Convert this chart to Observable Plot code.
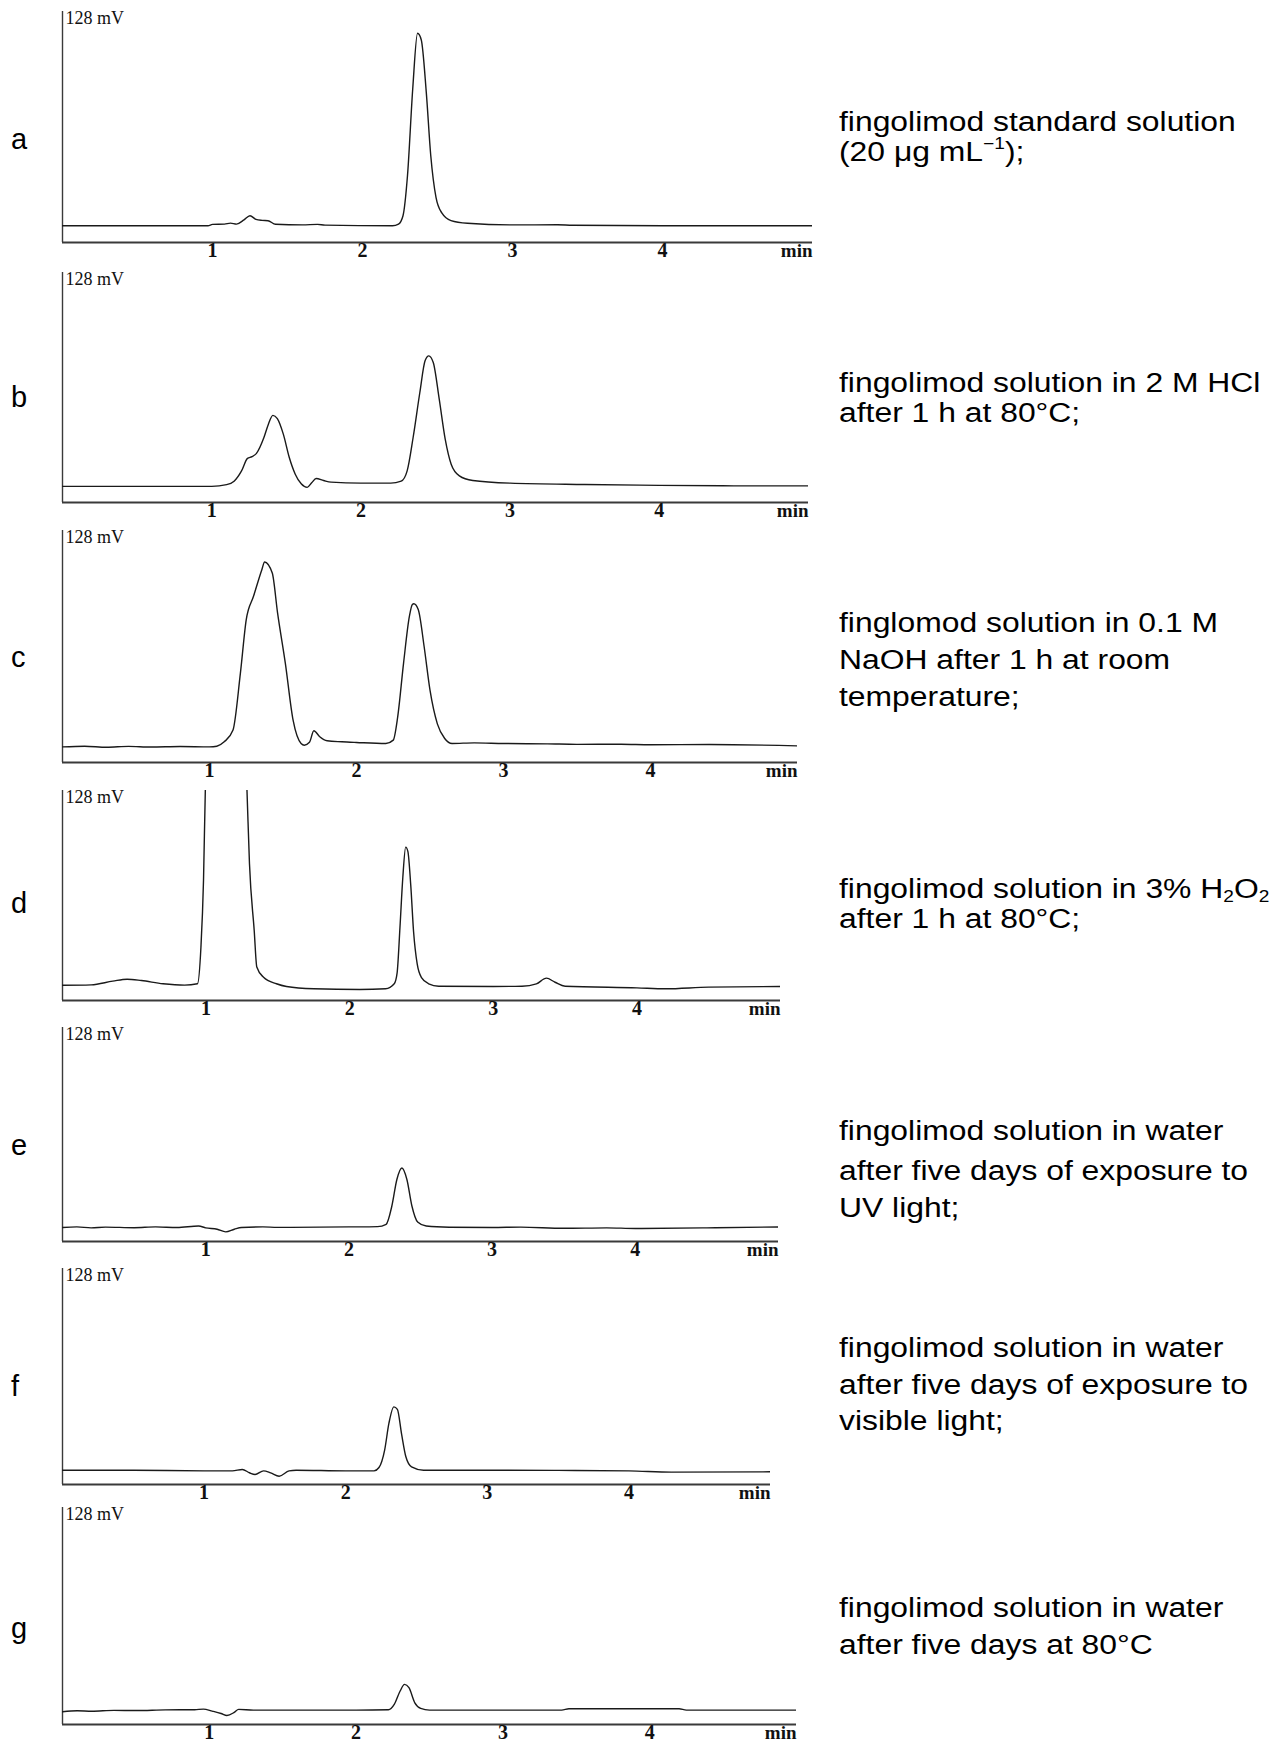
<!DOCTYPE html>
<html><head><meta charset="utf-8">
<script src="https://cdn.jsdelivr.net/npm/d3@7"></script>
<script src="https://cdn.jsdelivr.net/npm/@observablehq/plot@0.6"></script>
<style>
body{margin:0;background:#fff}
#root{position:relative;width:1280px;height:1742px;background:#fff;overflow:hidden}
.txt{position:absolute;font-family:"Liberation Sans",Arial,sans-serif;font-size:27px;line-height:27px;white-space:nowrap;color:#000;transform:scaleX(1.18);transform-origin:0 50%}
.letter{position:absolute;font-family:"Liberation Sans",Arial,sans-serif;font-size:29px;line-height:29px;white-space:nowrap;color:#000}
sup{font-size:0.6em;vertical-align:0.75em;line-height:0}
sub{font-size:0.6em;vertical-align:-0.25em;line-height:0}
</style></head><body><div id="root"></div><script>
// x tick labels (min)
const xTicks = [1, 2, 3, 4];
const panelLetters = ["a", "b", "c", "d", "e", "f", "g"];

// traces: [time (min), signal (mV)]
const traceA = [[0,0],[0.5,0],[0.97,0],[1.0,0.8],[1.08,1.0],[1.12,1.6],[1.16,1.0],[1.21,3.5],[1.25,6],[1.29,3.8],[1.33,3.2],[1.37,3.0],[1.42,0.9],[1.6,0.5],[1.7,0.8],[1.75,0.4],[2.2,0],[2.24,1],[2.27,6],[2.3,30],[2.335,82],[2.367,115],[2.392,111],[2.425,80],[2.455,42],[2.49,17],[2.53,7.5],[2.59,3.1],[2.7,1.5],[3.0,0.5],[3.3,0.6],[3.4,0.3],[4.0,0],[5.0,0]];
const traceB = [[0,-0.3],[1.0,-0.3],[1.1,0.7],[1.15,2.8],[1.2,9],[1.24,16.5],[1.27,17.5],[1.3,19.5],[1.35,29],[1.38,37],[1.41,42.3],[1.44,40.3],[1.48,31],[1.52,17],[1.56,7],[1.6,1.2],[1.64,-0.9],[1.67,1.8],[1.7,4.4],[1.75,3.2],[1.8,2.2],[2.0,1.6],[2.2,1.6],[2.27,2.8],[2.31,9],[2.35,29],[2.395,56],[2.43,75],[2.455,78],[2.485,74],[2.525,52],[2.565,28],[2.605,13],[2.66,6],[2.75,3.2],[3.0,1.6],[3.5,0.8],[4.0,0.3],[4.5,0],[5.0,0]];
const traceC = [[0,-0.7],[0.15,-0.3],[0.3,-0.9],[0.45,-0.4],[0.6,-0.8],[0.8,-0.5],[1.0,-0.7],[1.05,-0.3],[1.1,2.3],[1.16,9.3],[1.21,43],[1.25,75],[1.3,89],[1.356,104.7],[1.375,109.3],[1.427,102.7],[1.463,79],[1.516,49],[1.569,15],[1.623,1.3],[1.645,0.3],[1.68,2],[1.71,8.9],[1.75,5.3],[1.8,2.9],[1.9,2.3],[2.0,1.9],[2.2,1.3],[2.25,3.3],[2.28,17],[2.32,49],[2.36,77],[2.38,84],[2.39,84.4],[2.42,81],[2.46,59],[2.5,33],[2.55,13],[2.6,4.3],[2.65,1.3],[2.8,1.7],[3.0,1.3],[3.3,1.1],[3.5,0.8],[3.8,0.9],[4.0,0.6],[4.4,0.7],[5.0,-0.1]];
const traceD = [[0,0],[0.2,0.3],[0.35,2.7],[0.45,4.0],[0.55,3.1],[0.7,1],[0.85,0.1],[0.94,1],[0.964,25],[0.982,69],[0.995,130],[1.05,220],[1.15,240],[1.25,200],[1.284,130],[1.302,80],[1.335,36],[1.353,12],[1.4,5.3],[1.49,1],[1.56,-0.8],[1.75,-2.3],[2.07,-2.8],[2.25,-2.3],[2.31,1],[2.33,8],[2.35,38],[2.37,71],[2.39,90.8],[2.405,88],[2.425,66],[2.445,35],[2.47,14],[2.5,5],[2.55,1],[2.62,-0.6],[3.0,-0.8],[3.2,-0.6],[3.3,0.95],[3.37,4.7],[3.43,2],[3.5,-0.6],[4.0,-1.7],[4.2,-2.3],[4.5,-1.2],[5.0,-0.8]];
const traceE = [[0,-1],[0.1,-0.6],[0.2,-1.2],[0.3,-0.7],[0.5,-1.1],[0.65,-0.6],[0.8,-1],[0.95,0],[1.0,-1.2],[1.08,-2.1],[1.14,-3.8],[1.2,-2.1],[1.25,-1],[1.4,-0.6],[1.5,-0.9],[2.0,-0.6],[2.2,-0.4],[2.26,1.1],[2.3,12.9],[2.335,30],[2.37,37.4],[2.405,30],[2.44,12.9],[2.48,2.6],[2.54,0],[2.7,-0.8],[3.0,-1],[3.2,-0.7],[3.5,-1.5],[3.8,-1.2],[4.0,-1.6],[4.5,-1.2],[5.0,-0.6]];
const traceF = [[0,-0.85],[0.5,-0.9],[1.0,-1.3],[1.2,-1.3],[1.27,-0.4],[1.32,-2.5],[1.36,-3.6],[1.42,-1.3],[1.47,-2.6],[1.53,-4.7],[1.6,-1.3],[1.65,-0.85],[2.0,-1.3],[2.2,-1.3],[2.235,0.85],[2.275,12],[2.305,29],[2.34,39.6],[2.365,38],[2.395,22],[2.425,7.7],[2.465,1.3],[2.55,-0.85],[3.0,-0.85],[3.5,-1],[4.0,-1.3],[4.3,-2.1],[5.0,-1.9]];
const traceG = [[0,-1.9],[0.1,-1.3],[0.2,-1.6],[0.35,-1.0],[0.5,-1.1],[0.7,-0.7],[0.9,-0.6],[0.96,-0.2],[1.02,-1.5],[1.08,-3],[1.12,-4.3],[1.17,-2.3],[1.2,-0.4],[1.3,-0.85],[2.0,-0.85],[2.22,-0.6],[2.26,2.8],[2.3,11.3],[2.33,15.5],[2.36,13.4],[2.4,3.8],[2.44,0.2],[2.5,-0.85],[3.4,-0.85],[3.45,0],[4.2,0],[4.25,-0.85],[5.0,-0.85]];

const descriptions = [
  ["fingolimod standard solution", "(20 μg mL<sup>−1</sup>);"],
  ["fingolimod solution in 2 M HCl", "after 1 h at 80°C;"],
  ["finglomod solution in 0.1 M", "NaOH after 1 h at room", "temperature;"],
  ["fingolimod solution in 3% H<sub>2</sub>O<sub>2</sub>", "after 1 h at 80°C;"],
  ["fingolimod solution in water", "after five days of exposure to", "UV light;"],
  ["fingolimod solution in water", "after five days of exposure to", "visible light;"],
  ["fingolimod solution in water", "after five days at 80°C"]
];

const traces = [traceA, traceB, traceC, traceD, traceE, traceF, traceG];
// layout (pixels)
const geom = [
  {top: 11, axis: 242, right: 812, letterY: 142, lines: [124.5, 155]},
  {top: 272, axis: 502, right: 808, letterY: 400, lines: [385.5, 416]},
  {top: 530, axis: 762, right: 797, letterY: 660, lines: [626, 663, 700]},
  {top: 790, axis: 1000, right: 780, letterY: 906, lines: [891.5, 922]},
  {top: 1027, axis: 1241, right: 778, letterY: 1148, lines: [1134, 1174, 1211]},
  {top: 1268, axis: 1484, right: 770, letterY: 1389, lines: [1351, 1388, 1424]},
  {top: 1507, axis: 1724, right: 796, letterY: 1631, lines: [1611, 1648]}
];

const root = document.getElementById("root");
const serif = "'Liberation Serif', 'Times New Roman', serif";

traces.forEach((trace, i) => {
  const g = geom[i];
  const mt = 6, mb = 30;
  const svg = Plot.plot({
    width: g.right + 10,
    height: (g.axis - g.top) + mt + mb,
    marginLeft: 62, marginRight: 10, marginTop: mt, marginBottom: mb,
    style: {background: "transparent", overflow: "visible", maxWidth: "none"},
    x: {domain: [0, 5], axis: null},
    y: {domain: [-10, 128], axis: null},
    marks: [
      Plot.ruleY([-10], {stroke: "#3a3a3a", strokeWidth: 1.8}),
      Plot.ruleX([0], {y1: -10, y2: 128, stroke: "#3a3a3a", strokeWidth: 1.4}),
      Plot.line(trace, {x: d => d[0], y: d => d[1], curve: "monotone-x", stroke: "#1a1a1a", strokeWidth: 1.4, clip: true}),
      Plot.text(xTicks, {x: d => d, text: d => String(d), frameAnchor: "bottom", dy: 14, fontFamily: serif, fontSize: 20, fontWeight: "bold", fill: "#111"}),
      Plot.text(["min"], {frameAnchor: "bottom-right", dy: 14, textAnchor: "end", fontFamily: serif, fontSize: 19, fontWeight: "bold", fill: "#111"}),
      Plot.text(["128 mV"], {frameAnchor: "top-left", dx: 3, dy: 0, lineAnchor: "top", textAnchor: "start", fontFamily: serif, fontSize: 18, fill: "#111"})
    ]
  });
  svg.style.position = "absolute";
  svg.style.left = "0px";
  svg.style.top = (g.top - mt) + "px";
  root.appendChild(svg);

  const letter = document.createElement("div");
  letter.className = "letter";
  letter.style.left = "11px";
  letter.style.top = (g.letterY - 17) + "px";
  letter.textContent = panelLetters[i];
  root.appendChild(letter);

  descriptions[i].forEach((line, j) => {
    const d = document.createElement("div");
    d.className = "txt";
    d.style.left = "839px";
    d.style.top = (g.lines[j] - 16) + "px";
    d.innerHTML = line;
    root.appendChild(d);
  });
});
</script></body></html>
